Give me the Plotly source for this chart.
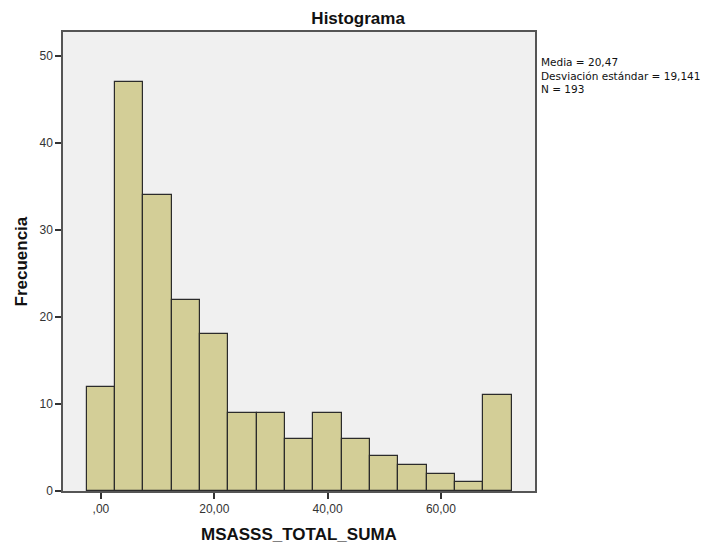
import plotly.graph_objects as go

bin_centers = [0, 5, 10, 15, 20, 25, 30, 35, 40, 45, 50, 55, 60, 65, 70]
counts = [12, 47, 34, 22, 18, 9, 9, 6, 9, 6, 4, 3, 2, 1, 11]
x_tickvals = [0, 20, 40, 60]
x_ticktext = [",00", "20,00", "40,00", "60,00"]
y_tickvals = [0, 10, 20, 30, 40, 50]
stats_lines = ["Media = 20,47", "Desviación estándar = 19,141", "N = 193"]

fig = go.Figure()
fig.add_trace(go.Bar(
    x=bin_centers, y=counts, width=5,
    marker=dict(color="#D3CE97", line=dict(color="#2b2b2b", width=1.2)),
    showlegend=False,
))

fig.update_layout(
    width=705, height=546,
    margin=dict(l=63, r=170, t=32, b=55),
    paper_bgcolor="white",
    plot_bgcolor="#F0F0F0",
    font=dict(family="Arial, Liberation Sans, sans-serif", color="#222"),
    title=dict(text="<b>Histograma</b>", x=0.508, xanchor="center", y=0.967, yanchor="middle",
               font=dict(size=17, color="#111")),
    bargap=0,
)
fig.update_xaxes(
    range=[-6.7, 76.6], tickvals=x_tickvals, ticktext=x_ticktext,
    ticks="outside", ticklen=6, tickwidth=1.5, tickcolor="#333",
    showline=True, linecolor="#555", linewidth=1.5, mirror=True,
    showgrid=False, zeroline=False, automargin=False,
    tickfont=dict(size=12, color="#333"),
)
fig.update_yaxes(
    range=[0, 52.76], tickvals=y_tickvals,
    ticks="outside", ticklen=6, tickwidth=1.5, tickcolor="#333",
    showline=True, linecolor="#555", linewidth=1.5, mirror=True,
    showgrid=False, zeroline=False, automargin=False,
    tickfont=dict(size=12, color="#333"),
)
fig.add_annotation(
    text="<b>MSASSS_TOTAL_SUMA</b>", xref="paper", yref="paper",
    x=0.5, y=-0.0937, xanchor="center", yanchor="middle", showarrow=False,
    font=dict(size=17, color="#111"),
)
fig.add_annotation(
    text="<b>Frecuencia</b>", xref="paper", yref="paper",
    x=-0.0869, y=0.5, xanchor="center", yanchor="middle", showarrow=False,
    textangle=-90, font=dict(size=17, color="#111"),
)
fig.add_annotation(
    text="<br>".join(stats_lines), xref="paper", yref="paper",
    x=1.011, y=0.906, xanchor="left", yanchor="middle", align="left",
    showarrow=False, borderpad=0,
    font=dict(size=10.5, color="#111", family="DejaVu Sans, sans-serif"),
)
fig.write_html("out.html")
